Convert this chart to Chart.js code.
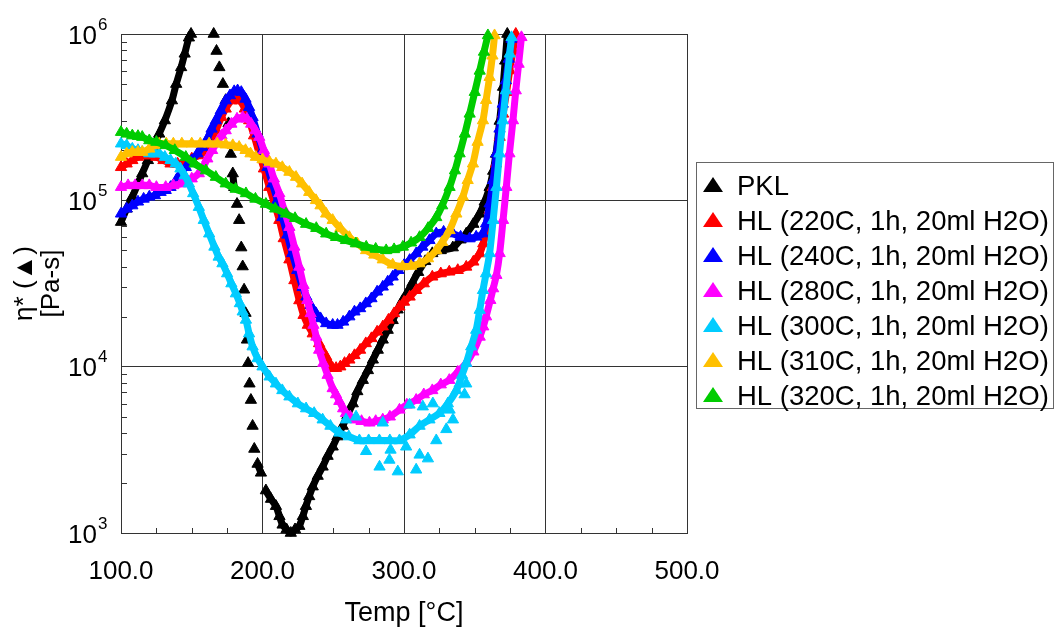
<!DOCTYPE html>
<html>
<head>
<meta charset="utf-8">
<script src="https://cdn.jsdelivr.net/npm/chart.js@4.4.1/dist/chart.umd.min.js"></script>
<style>
  html, body { margin: 0; padding: 0; background: #fff; }
  #wrap { width: 1056px; height: 628px; }
</style>
</head>
<body>
<div id="wrap"><canvas id="viscChart" width="1056" height="628"></canvas></div>
<script>
// axis ticks
const xTicks = [100, 200, 300, 400, 500];
const yDecades = [1e3, 1e4, 1e5, 1e6];

const seriesLabels = [
  'PKL',
  'HL (220C, 1h, 20ml H2O)',
  'HL (240C, 1h, 20ml H2O)',
  'HL (280C, 1h, 20ml H2O)',
  'HL (300C, 1h, 20ml H2O)',
  'HL (310C, 1h, 20ml H2O)',
  'HL (320C, 1h, 20ml H2O)'
];

// Temp [°C] / eta* [Pa-s]
const pklTemp = [100,104,108,112,115,119,123,127,131,136,139,142.5,145,148,149.5,157,165.5,167.5,169.5,172,174,176,177.6,179,180,182,183.5,185,186,187,188,189,189.8,190.8,191.8,193,194.2,196.5,198.9,202.4,206,209.5,212,214.2,217,220,223,226,228.5,230.7,233,235.5,239,242.5,246,249.6,253,256.7,260,263.8,267,270.9,274.5,278,281.5,285,288.5,292,295.5,299,302.5,306,310,315,320,326,334.5,340,344,349,353.5,357,360.5,363,365,367.6,370,371.5,373];
const pklEta = [7.4e4,8.9e4,1.05e5,1.26e5,1.45e5,1.74e5,2.09e5,2.51e5,3.02e5,3.98e5,5.0e5,6.3e5,7.6e5,9.5e5,1.0e6,null,1.0e6,7.9e5,6.3e5,5.0e5,4.0e5,2.9e5,1.9e5,1.45e5,1.2e5,9.5e4,7.6e4,5.2e4,4.0e4,2.9e4,2.1e4,1.45e4,1.05e4,7.9e3,6.3e3,4.4e3,3.2e3,2.6e3,2.3e3,1.8e3,1.6e3,1.45e3,1.26e3,1.12e3,1.05e3,1.0e3,1.05e3,1.1e3,1.26e3,1.45e3,1.66e3,1.9e3,2.2e3,2.5e3,2.9e3,3.3e3,3.8e3,4.4e3,5.1e3,6.0e3,7.1e3,8.3e3,9.5e3,1.1e4,1.26e4,1.45e4,1.66e4,1.9e4,2.2e4,2.5e4,2.8e4,3.2e4,3.7e4,4.3e4,4.8e4,5.0e4,5.2e4,5.8e4,6.3e4,7.2e4,8.3e4,9.8e4,1.2e5,1.5e5,1.9e5,3.0e5,4.8e5,6.9e5,1.0e6];

const hl220Temp = [100,104,108,112,116,120,125,130,135,140,145,150,155,158,162,167,171,174,178,181,184,187.5,190.6,194,197.7,201,204.8,208,211.9,215,219,222.5,226,229,232,235.5,240,245,249.6,252,255,258,261.4,265,269,273,277,281,285,289,293,296.8,300,304,308.6,314,320,326,332,338,344,349,353.5,356,358,360.5,362.8,365,367.6,370,372.5,374.7,377,379];
const hl220Eta = [1.58e5,1.66e5,1.74e5,1.82e5,1.86e5,1.86e5,1.82e5,1.74e5,1.66e5,1.66e5,1.7e5,1.78e5,1.86e5,1.95e5,2.19e5,2.63e5,3.16e5,3.55e5,3.98e5,4.07e5,3.98e5,3.55e5,3.02e5,2.45e5,1.91e5,1.55e5,1.2e5,9.8e4,7.6e4,5.9e4,4.4e4,3.3e4,2.5e4,2.04e4,1.78e4,1.58e4,1.38e4,1.15e4,9.8e3,9.8e3,1.0e4,1.05e4,1.1e4,1.17e4,1.26e4,1.38e4,1.48e4,1.62e4,1.74e4,1.91e4,2.09e4,2.29e4,2.45e4,2.63e4,2.88e4,3.16e4,3.47e4,3.63e4,3.72e4,3.8e4,3.98e4,4.27e4,4.79e4,5.5e4,6.3e4,8.7e4,1.2e5,1.66e5,2.4e5,3.31e5,4.47e5,6.03e5,7.94e5,1.0e6];

const hl240Temp = [100,104,108,112,116,120,124,128,131.6,135,139,142,145.8,150,154,157.5,161,164,167,170.5,174,177,180,182.4,185,188,190.5,193,196.5,200,203.5,207,210.5,214,217.5,221,224.5,228.3,231,234,237.8,241,245,249.6,253,257,261.4,265,269,273,277,281,285,288.5,292,296,300,304,308.6,313,318,322.8,328,334.5,340,346.4,351,355.6,358,360.5,363,365.3,367.5,369.8,372,374,376];
const hl240Eta = [8.3e4,8.9e4,9.3e4,9.8e4,1.02e5,1.05e5,1.07e5,1.12e5,1.15e5,1.2e5,1.32e5,1.45e5,1.58e5,1.74e5,1.91e5,2.09e5,2.34e5,2.69e5,3.02e5,3.47e5,3.98e5,4.27e5,4.52e5,4.57e5,4.47e5,4.07e5,3.63e5,3.16e5,2.51e5,2.0e5,1.58e5,1.26e5,1.0e5,7.9e4,6.2e4,4.8e4,3.8e4,3.0e4,2.63e4,2.34e4,2.09e4,1.95e4,1.82e4,1.78e4,1.78e4,1.86e4,2.0e4,2.14e4,2.24e4,2.4e4,2.57e4,2.82e4,3.02e4,3.24e4,3.47e4,3.8e4,4.07e4,4.37e4,4.79e4,5.25e4,5.75e4,6.31e4,6.46e4,6.31e4,6.03e4,5.89e4,6.03e4,6.31e4,7.24e4,9.55e4,1.32e5,1.91e5,2.69e5,3.8e5,5.25e5,7.08e5,9.33e5];

const hl280Temp = [100,105,110,115,120,125,131.6,137,142,145.8,150,155,158,161,164.4,168,171,174,178,182,186,189,192,195,197.7,201,204.8,208,211.9,215,219,222.5,226,229,231.7,234,236,238,240,243,246,249.6,252,254.3,257,259,262,266,270,275.6,280,285,290,296.8,302,308.6,314,320,326,332,338,344,349,353.5,356,358,361,363,365.3,367.6,370,372.3,374.5,377,379,381,383];
const hl280Eta = [1.2e5,1.23e5,1.23e5,1.23e5,1.23e5,1.2e5,1.2e5,1.23e5,1.26e5,1.32e5,1.35e5,1.45e5,1.58e5,1.78e5,2.0e5,2.24e5,2.45e5,2.63e5,2.88e5,3.09e5,3.16e5,3.09e5,2.88e5,2.63e5,2.4e5,2.0e5,1.66e5,1.35e5,1.1e5,8.9e4,6.9e4,5.25e4,3.98e4,3.09e4,2.51e4,2.09e4,1.78e4,1.51e4,1.26e4,1.05e4,8.9e3,7.4e3,6.8e3,6.2e3,5.6e3,5.25e3,5.0e3,4.8e3,4.7e3,4.6e3,4.7e3,4.8e3,5.0e3,5.5e3,5.9e3,6.3e3,6.8e3,7.2e3,7.8e3,8.3e3,9.3e3,1.05e4,1.23e4,1.51e4,1.74e4,2.0e4,2.51e4,2.95e4,3.55e4,4.8e4,7.6e4,1.2e5,1.91e5,3.02e5,4.57e5,6.6e5,9.55e5];

const hl300Temp = [100,104,108,112,115,120,124,127,131,135,138.7,142,145,148,151,155,158.5,162.3,166,169,171.7,175,178,181.2,184,186,188.3,190.5,193,196.5,200,205,209.5,214,219,225,230.8,236.5,242.5,248,254.3,261,268.5,275,282.6,290,296.8,304,311,318,325,331,337,341,344,347.5,351,353.5,355.8,358,360.5,363,365.3,367.5,369.8,372,374.7,376];
const hl300Eta = [2.19e5,2.14e5,2.04e5,2.0e5,1.95e5,1.91e5,1.91e5,1.91e5,1.82e5,1.74e5,1.66e5,1.55e5,1.41e5,1.26e5,1.1e5,9.1e4,7.6e4,6.3e4,5.25e4,4.57e4,4.17e4,3.63e4,3.16e4,2.75e4,2.4e4,2.14e4,1.91e4,1.58e4,1.32e4,1.12e4,1.0e4,8.7e3,7.9e3,7.2e3,6.6e3,6.0e3,5.6e3,5.25e3,4.8e3,4.4e3,4.0e3,3.8e3,3.6e3,3.6e3,3.6e3,3.6e3,3.6e3,3.9e3,4.4e3,4.8e3,5.25e3,6.0e3,7.2e3,8.9e3,1.05e4,1.32e4,1.66e4,2.19e4,2.88e4,3.63e4,4.8e4,7.6e4,1.2e5,1.91e5,3.02e5,4.57e5,7.6e5,9.55e5];
// scattered readings of the 300C sample around its minimum
const hl300ScatterTemp = [259,266.1,273.2,282.7,285,289.7,290.5,295.6,301.5,303.9,308.6,311,313.3,316.9,320.4,322.8,329.9,332.2,334.6,339.3,342.8,344];
const hl300ScatterEta = [4.8e3,5.0e3,3.1e3,2.5e3,4.6e3,2.75e3,3.16e3,2.34e3,3.3e3,5.9e3,2.4e3,2.95e3,5.75e3,2.8e3,6.0e3,3.6e3,4.2e3,5.5e3,4.8e3,7.9e3,6.8e3,7.9e3];

const hl310Temp = [100,104,108,112,115,120,124,127,132,137,143,150,156,162.3,168,174,179,183.5,188,191.5,195.3,200,205,209.5,214,219,223.7,228,233,237.8,241,245,249.6,255,261.4,267,273.2,279,285,292,299,305,311,317,322.8,327,332.2,337,341.6,345,348.7,352,355.8,358,360.5,362.5,364];
const hl310Eta = [1.82e5,1.91e5,1.95e5,1.95e5,1.95e5,2.04e5,2.14e5,2.19e5,2.19e5,2.19e5,2.19e5,2.19e5,2.19e5,2.19e5,2.19e5,2.16e5,2.14e5,2.09e5,2.0e5,1.91e5,1.82e5,1.76e5,1.7e5,1.66e5,1.58e5,1.48e5,1.38e5,1.26e5,1.12e5,1.0e5,9.3e4,8.3e4,7.6e4,6.8e4,6.0e4,5.5e4,5.0e4,4.7e4,4.4e4,4.1e4,4.0e4,4.03e4,4.17e4,4.47e4,5.0e4,5.6e4,6.6e4,8.3e4,1.05e5,1.32e5,1.66e5,2.24e5,3.02e5,4.0e5,5.5e5,7.4e5,9.8e5];

const hl320Temp = [100,104,108,112,115,120,125,131.6,138,145.8,152,160,167,174,181,188.3,195,202.4,209,216.6,223,230.8,238,245,252,259,266,273.3,280,287.4,293,299.2,305,311,317,322.8,327,332.2,336,339.3,343,346.4,350,353.5,356.5,359.3];
const hl320Eta = [2.57e5,2.51e5,2.45e5,2.43e5,2.4e5,2.29e5,2.24e5,2.14e5,2.0e5,1.82e5,1.66e5,1.51e5,1.38e5,1.26e5,1.17e5,1.1e5,1.02e5,9.5e4,8.9e4,8.3e4,7.8e4,7.2e4,6.8e4,6.3e4,6.0e4,5.75e4,5.5e4,5.25e4,5.1e4,5.0e4,5.07e4,5.25e4,5.56e4,6.0e4,6.8e4,7.9e4,9.3e4,1.2e5,1.51e5,1.91e5,2.51e5,3.31e5,4.47e5,6.0e5,7.8e5,9.8e5];

const seriesTemp = [pklTemp, hl220Temp, hl240Temp, hl280Temp, hl300Temp, hl310Temp, hl320Temp];
const seriesEta = [pklEta, hl220Eta, hl240Eta, hl280Eta, hl300Eta, hl310Eta, hl320Eta];

const colors = ['#000000', '#ff0000', '#0000ff', '#ff00ff', '#00ccff', '#ffc000', '#00cc00'];
const FONT = "'Liberation Sans', Arial, sans-serif";

function toPoints(temps, etas) {
  return temps.map((t, i) => ({ x: t, y: etas[i] }));
}

// PKL falls fast after its peak: only separate markers there, no band
function pklSegColor(ctx) {
  return (ctx.p1.y - ctx.p0.y) > 14 ? 'rgba(0,0,0,0)' : colors[0];
}

const datasets = seriesTemp.map((temps, i) => ({
  label: seriesLabels[i],
  data: toPoints(temps, seriesEta[i]),
  showLine: true,
  borderColor: colors[i],
  backgroundColor: colors[i],
  borderWidth: 7,
  tension: 0.3,
  segment: i === 0 ? { borderColor: pklSegColor } : undefined,
  pointStyle: 'triangle',
  pointRadius: 6.5,
  pointBorderWidth: 1,
  pointBorderColor: colors[i],
  pointBackgroundColor: colors[i],
  order: seriesTemp.length - i, // later series drawn on top
  clip: 7
}));

datasets.push({
  label: seriesLabels[4],
  data: toPoints(hl300ScatterTemp, hl300ScatterEta),
  showLine: false,
  backgroundColor: colors[4],
  pointStyle: 'triangle',
  pointRadius: 6.5,
  pointBorderWidth: 1,
  pointBorderColor: colors[4],
  pointBackgroundColor: colors[4],
  order: 2,
  clip: 7
});

// minor ticks, y labels with exponent, boxed legend
const decorPlugin = {
  id: 'decor',
  beforeDatasetsDraw(chart) {
    const ctx = chart.ctx;
    const area = chart.chartArea;
    const xs = chart.scales.x, ys = chart.scales.y;
    ctx.save();
    ctx.strokeStyle = '#333';
    ctx.lineWidth = 1;
    ctx.beginPath();
    for (let d = 0; d < yDecades.length - 1; d++) {
      for (let m = 2; m <= 9; m++) {
        const py = Math.round(ys.getPixelForValue(yDecades[d] * m)) + 0.5;
        ctx.moveTo(area.left, py);
        ctx.lineTo(area.left + 6, py);
      }
    }
    for (let v = xTicks[0]; v < xTicks[xTicks.length - 1]; v += 25) {
      if (v % 100 === 0) continue;
      const px = Math.round(xs.getPixelForValue(v)) + 0.5;
      ctx.moveTo(px, area.bottom);
      ctx.lineTo(px, area.bottom - 5);
    }
    ctx.stroke();
    ctx.restore();
  },
  afterDraw(chart) {
    const ctx = chart.ctx;
    const ys = chart.scales.y;
    ctx.save();
    ctx.fillStyle = '#000';
    yDecades.forEach(v => {
      const py = ys.getPixelForValue(v);
      ctx.font = '26px ' + FONT;
      ctx.textAlign = 'right';
      ctx.textBaseline = 'alphabetic';
      ctx.fillText('10', 97, py + 9.5);
      ctx.font = '17px ' + FONT;
      ctx.textAlign = 'left';
      ctx.fillText(String(Math.round(Math.log10(v))), 98, py - 4.5);
    });

    // legend
    ctx.strokeStyle = '#666';
    ctx.lineWidth = 1;
    ctx.strokeRect(696.5, 162.5, 357, 246);
    ctx.font = '27.5px ' + FONT;
    ctx.textAlign = 'left';
    seriesLabels.forEach((label, i) => {
      const cy = 185 + i * 35;
      ctx.fillStyle = colors[i];
      ctx.beginPath();
      ctx.moveTo(713, cy - 8);
      ctx.lineTo(723, cy + 7);
      ctx.lineTo(703, cy + 7);
      ctx.closePath();
      ctx.fill();
      ctx.fillStyle = '#000';
      ctx.fillText(label, 737, cy + 9.5);
    });
    ctx.restore();
  }
};

Chart.defaults.font.family = FONT;
Chart.defaults.color = '#000';

new Chart(document.getElementById('viscChart'), {
  type: 'scatter',
  data: { datasets: datasets },
  options: {
    responsive: false,
    devicePixelRatio: 1,
    animation: false,
    layout: { padding: { left: 0, top: 34, right: 369, bottom: 0 } },
    plugins: {
      legend: { display: false },
      tooltip: { enabled: false }
    },
    scales: {
      x: {
        type: 'linear',
        min: 100,
        max: 500,
        afterBuildTicks: scale => { scale.ticks = xTicks.map(v => ({ value: v })); },
        afterFit: scale => { scale.height = 95; },
        ticks: {
          font: { size: 26 },
          padding: 23,
          maxRotation: 0,
          callback: v => Number(v).toFixed(1)
        },
        grid: { color: '#333', lineWidth: 1, drawTicks: false },
        border: { color: '#333', width: 1 },
        title: {
          display: true,
          text: 'Temp [°C]',
          font: { size: 27, lineHeight: 1 },
          padding: { top: 0, bottom: 1 }
        }
      },
      y: {
        type: 'logarithmic',
        min: 1e3,
        max: 1e6,
        afterBuildTicks: scale => { scale.ticks = yDecades.map(v => ({ value: v })); },
        afterFit: scale => { scale.width = 121; },
        ticks: { display: false },
        grid: { color: '#333', lineWidth: 1, drawTicks: false },
        border: { color: '#333', width: 1 },
        title: {
          display: true,
          text: ['η* (▲)', '[Pa-s]'],
          font: { size: 26, lineHeight: 1.05 },
          padding: { top: 11, bottom: 0 }
        }
      }
    }
  },
  plugins: [decorPlugin]
});
</script>
</body>
</html>
